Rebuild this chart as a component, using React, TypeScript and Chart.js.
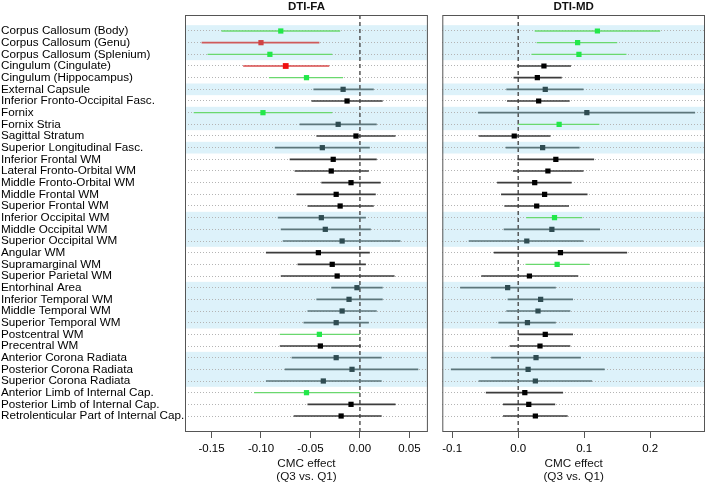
import React, { useEffect, useRef } from "react";
import { Chart, registerables } from "chart.js";

Chart.register(...registerables);

const regions = [
  "Corpus Callosum (Body)",
  "Corpus Callosum (Genu)",
  "Corpus Callosum (Splenium)",
  "Cingulum (Cingulate)",
  "Cingulum (Hippocampus)",
  "External Capsule",
  "Inferior Fronto-Occipital Fasc.",
  "Fornix",
  "Fornix Stria",
  "Sagittal Stratum",
  "Superior Longitudinal Fasc.",
  "Inferior Frontal WM",
  "Lateral Fronto-Orbital WM",
  "Middle Fronto-Orbital WM",
  "Middle Frontal WM",
  "Superior Frontal WM",
  "Inferior Occipital WM",
  "Middle Occipital WM",
  "Superior Occipital WM",
  "Angular WM",
  "Supramarginal WM",
  "Superior Parietal WM",
  "Entorhinal Area",
  "Inferior Temporal WM",
  "Middle Temporal WM",
  "Superior Temporal WM",
  "Postcentral WM",
  "Precentral WM",
  "Anterior Corona Radiata",
  "Posterior Corona Radiata",
  "Superior Corona Radiata",
  "Anterior Limb of Internal Cap.",
  "Posterior Limb of Internal Cap.",
  "Retrolenticular Part of Internal Cap.",
];

const faEst = [-0.080, -0.100, -0.091, -0.075, -0.054, -0.017, -0.013, -0.098, -0.022, -0.004, -0.038, -0.027, -0.029, -0.009, -0.024, -0.020, -0.039, -0.035, -0.018, -0.042, -0.028, -0.023, -0.003, -0.011, -0.018, -0.024, -0.041, -0.040, -0.024, -0.008, -0.037, -0.054, -0.009, -0.019];
const faLo = [-0.140, -0.160, -0.154, -0.118, -0.092, -0.047, -0.049, -0.168, -0.061, -0.044, -0.086, -0.071, -0.066, -0.039, -0.064, -0.053, -0.083, -0.080, -0.078, -0.095, -0.063, -0.080, -0.029, -0.044, -0.053, -0.057, -0.081, -0.081, -0.069, -0.076, -0.095, -0.107, -0.053, -0.067];
const faHi = [-0.020, -0.041, -0.028, -0.031, -0.017, 0.014, 0.023, -0.028, 0.017, 0.036, 0.010, 0.017, 0.009, 0.021, 0.016, 0.014, 0.006, 0.011, 0.041, 0.010, 0.006, 0.035, 0.023, 0.023, 0.017, 0.009, 0.000, 0.001, 0.022, 0.059, 0.022, 0.000, 0.036, 0.022];
const faSig = ["g", "r", "g", "R", "g", "n", "n", "g", "n", "n", "n", "n", "n", "n", "n", "n", "n", "n", "n", "n", "n", "n", "n", "n", "n", "n", "g", "n", "n", "n", "n", "g", "n", "n"];

const mdEst = [0.120, 0.090, 0.092, 0.039, 0.029, 0.041, 0.031, 0.104, 0.062, -0.006, 0.037, 0.057, 0.045, 0.025, 0.040, 0.028, 0.055, 0.051, 0.013, 0.064, 0.059, 0.017, -0.016, 0.034, 0.030, 0.014, 0.041, 0.033, 0.027, 0.015, 0.026, 0.010, 0.016, 0.026];
const mdLo = [0.025, 0.028, 0.020, -0.002, -0.007, -0.018, -0.017, -0.061, 0.000, -0.060, -0.019, -0.001, -0.008, -0.032, -0.026, -0.021, 0.012, -0.022, -0.075, -0.037, 0.011, -0.056, -0.088, -0.016, -0.018, -0.030, 0.000, -0.013, -0.041, -0.102, -0.060, -0.049, -0.023, -0.023];
const mdHi = [0.215, 0.150, 0.164, 0.080, 0.066, 0.099, 0.078, 0.268, 0.123, 0.049, 0.093, 0.115, 0.099, 0.081, 0.105, 0.077, 0.097, 0.124, 0.099, 0.165, 0.108, 0.091, 0.057, 0.083, 0.079, 0.057, 0.083, 0.079, 0.095, 0.131, 0.112, 0.068, 0.056, 0.075];
const mdSig = ["g", "g", "g", "n", "n", "n", "n", "n", "g", "n", "n", "n", "n", "n", "n", "n", "g", "n", "n", "n", "g", "n", "n", "n", "n", "n", "n", "n", "n", "n", "n", "n", "n", "n"];

// shaded row groups (first index, last index)
const shadedGroups = [[0, 2], [5, 5], [7, 8], [10, 10], [16, 18], [22, 25], [28, 30]];

const faTicks = [-0.15, -0.1, -0.05, 0, 0.05];
const mdTicks = [-0.1, 0, 0.1, 0.2];
const faRange = [-0.1768, 0.0687];
const mdRange = [-0.115, 0.283];
const axisTitle = ["CMC effect", "(Q3 vs. Q1)"];

const FONT = "'Liberation Sans', Arial, Helvetica, sans-serif";

const isShaded = (i: number) => shadedGroups.some(([a, b]) => i >= a && i <= b);

function colorsFor(code: string, i: number) {
  if (code === "g") return { pt: "#22e84a", ln: "#6ad86e" };
  if (code === "r") return { pt: "#cf4343", ln: "#cf5a5a" };
  if (code === "R") return { pt: "#f01010", ln: "#d94a4a" };
  if (isShaded(i)) return { pt: "#2f4c52", ln: "#5d767b" };
  return { pt: "#000000", ln: "#3c3c3c" };
}

const decorPlugin = {
  id: "decor",
  beforeDraw(chart: any) {
    const { ctx, chartArea } = chart;
    const y = chart.scales.y;
    ctx.save();
    ctx.fillStyle = "#ddf2fa";
    shadedGroups.forEach(([a, b]) => {
      const y1 = y.getPixelForValue(a - 0.5);
      const y2 = y.getPixelForValue(b + 0.5);
      ctx.fillRect(chartArea.left, Math.min(y1, y2), chartArea.right - chartArea.left, Math.abs(y2 - y1));
    });
    ctx.restore();
  },
  beforeDatasetsDraw(chart: any) {
    const { ctx, chartArea } = chart;
    const x0 = chart.scales.x.getPixelForValue(0);
    ctx.save();
    ctx.strokeStyle = "#4a4a4a";
    ctx.lineWidth = 1.4;
    ctx.setLineDash([4, 3]);
    ctx.beginPath();
    ctx.moveTo(x0, chartArea.top);
    ctx.lineTo(x0, chartArea.bottom);
    ctx.stroke();
    ctx.restore();
  },
  afterDraw(chart: any) {
    const { ctx, chartArea } = chart;
    ctx.save();
    ctx.strokeStyle = "#555555";
    ctx.lineWidth = 1;
    ctx.strokeRect(chartArea.left + 0.5, chartArea.top + 0.5, chartArea.right - chartArea.left - 1, chartArea.bottom - chartArea.top - 1);
    ctx.fillStyle = "#111111";
    ctx.font = "bold 11.5px " + FONT;
    ctx.textAlign = "center";
    ctx.textBaseline = "alphabetic";
    ctx.fillText(chart.options.plugins.panelTitle, (chartArea.left + chartArea.right) / 2, 9.8);
    ctx.restore();
  },
};

function makeConfig(
  title: string,
  est: number[],
  lo: number[],
  hi: number[],
  sig: string[],
  range: number[],
  ticks: number[],
  digits: number,
  showLabels: boolean,
  padding: any,
  yWidth: number
) {
  const ciSets = regions.map((_, i) => ({
    type: "line",
    data: [
      { x: lo[i], y: i },
      { x: hi[i], y: i },
    ],
    borderColor: colorsFor(sig[i], i).ln,
    borderWidth: sig[i] === "g" ? 1.3 : 1.6,
    pointRadius: 0,
    fill: false,
    order: 1,
  }));
  const pointSet = {
    type: "scatter",
    data: est.map((v, i) => ({ x: v, y: i })),
    pointStyle: "rect",
    pointRadius: est.map((_, i) => (sig[i] === "R" ? 4.1 : 3.7)),
    pointBackgroundColor: est.map((_, i) => colorsFor(sig[i], i).pt),
    pointBorderColor: est.map((_, i) => colorsFor(sig[i], i).pt),
    pointBorderWidth: 0,
    order: 0,
  };
  return {
    type: "scatter",
    data: { datasets: [pointSet, ...ciSets] },
    plugins: [decorPlugin],
    options: {
      animation: false,
      responsive: false,
      maintainAspectRatio: false,
      layout: { padding },
      plugins: {
        legend: { display: false },
        tooltip: { enabled: false },
        title: { display: false },
        panelTitle: title,
      },
      scales: {
        x: {
          type: "linear",
          position: "bottom",
          min: range[0],
          max: range[1],
          afterBuildTicks: (axis: any) => {
            axis.ticks = ticks.map((v) => ({ value: v }));
          },
          afterFit: (axis: any) => {
            axis.height = 53;
          },
          ticks: {
            autoSkip: false,
            maxRotation: 0,
            padding: 4,
            color: "#000",
            font: { family: FONT, size: 11.5 },
            callback: (v: any) => Number(v).toFixed(digits),
          },
          grid: {
            display: true,
            drawOnChartArea: false,
            drawTicks: true,
            tickLength: 6,
            color: "#555555",
          },
          border: { display: false },
          title: {
            display: true,
            text: axisTitle,
            color: "#111",
            font: { family: FONT, size: 11.7, lineHeight: 1.12 },
            padding: { top: 0, bottom: 1.5 },
          },
        },
        y: {
          type: "linear",
          position: "left",
          min: -1.371,
          max: 34.371,
          reverse: true,
          afterBuildTicks: (axis: any) => {
            axis.ticks = regions.map((_, i) => ({ value: i }));
          },
          afterFit: (axis: any) => {
            axis.width = yWidth;
          },
          ticks: {
            display: showLabels,
            autoSkip: false,
            crossAlign: "far",
            padding: 0,
            color: "#000",
            font: { family: FONT, size: 11.7 },
            callback: (v: any) => regions[v] ?? "",
          },
          grid: {
            display: true,
            drawTicks: false,
            color: "#b4b4b4",
            lineWidth: 1,
          },
          border: { display: false, dash: [1, 2] },
        },
      },
    },
  };
}

export default function App() {
  const leftRef = useRef<HTMLCanvasElement>(null);
  const rightRef = useRef<HTMLCanvasElement>(null);

  useEffect(() => {
    Chart.defaults.font.family = FONT;
    const c1 = new Chart(
      leftRef.current as any,
      makeConfig("DTI-FA", faEst, faLo, faHi, faSig, faRange, faTicks, 2, true, { left: 1, right: 4, top: 15, bottom: 0 }, 184) as any
    );
    const c2 = new Chart(
      rightRef.current as any,
      makeConfig("DTI-MD", mdEst, mdLo, mdHi, mdSig, mdRange, mdTicks, 1, false, { left: 10.3, right: 1.3, top: 15, bottom: 0 }, 0) as any
    );
    return () => {
      c1.destroy();
      c2.destroy();
    };
  }, []);

  return (
    <div style={{ position: "absolute", left: 0, top: 0, width: 709, height: 485, background: "#fff" }}>
      <canvas ref={leftRef} width={432} height={485} style={{ position: "absolute", left: 0, top: 0, width: 432, height: 485 }} />
      <canvas ref={rightRef} width={277} height={485} style={{ position: "absolute", left: 432, top: 0, width: 277, height: 485 }} />
    </div>
  );
}
